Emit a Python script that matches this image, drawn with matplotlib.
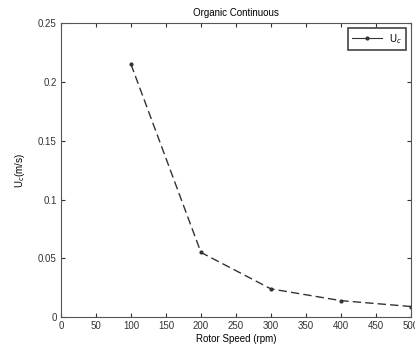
import matplotlib
matplotlib.use("Agg")
import matplotlib.pyplot as plt
from matplotlib.lines import Line2D

# data
rotor_speed = [100, 200, 300, 400, 500]
uc = [0.215, 0.055, 0.024, 0.014, 0.009]
x_ticks = [0, 50, 100, 150, 200, 250, 300, 350, 400, 450, 500]
y_ticks = [0, 0.05, 0.1, 0.15, 0.2, 0.25]
y_tick_labels = ["0", "0.05", "0.1", "0.15", "0.2", "0.25"]

plt.rcParams["font.family"] = ["Liberation Sans", "DejaVu Sans"]
plt.rcParams["font.size"] = 7

fig = plt.figure(figsize=(4.15, 3.5), dpi=100)
ax = fig.add_axes([0.147, 0.094, 0.843, 0.840])

ax.plot(rotor_speed, uc, color="#333333", linestyle=(0, (6, 3)), linewidth=1.0,
        marker=".", markersize=4)

ax.set_xlim(0, 500)
ax.set_ylim(0, 0.25)
ax.set_xticks(x_ticks)
ax.set_yticks(y_ticks)
ax.set_yticklabels(y_tick_labels)
ax.tick_params(direction="in", top=True, right=True, length=3, colors="#333333",
               labelsize=7, pad=3)
for s in ax.spines.values():
    s.set_color("#555555")
    s.set_linewidth(0.8)

ax.set_title("Organic Continuous", fontsize=7, pad=5)
ax.set_xlabel("Rotor Speed (rpm)", fontsize=7, labelpad=2)
ax.set_ylabel("U$_c$(m/s)", fontsize=7, labelpad=8)

handle = Line2D([], [], color="#333333", linestyle="-", linewidth=0.8,
                marker=".", markersize=4)
leg = ax.legend([handle], ["U$_c$"], loc="upper right", fancybox=False,
                framealpha=1, edgecolor="#444444", handlelength=3, fontsize=7,
                borderaxespad=0.5)
leg.get_frame().set_linewidth(1.2)

fig.savefig("out.png", dpi=100)
